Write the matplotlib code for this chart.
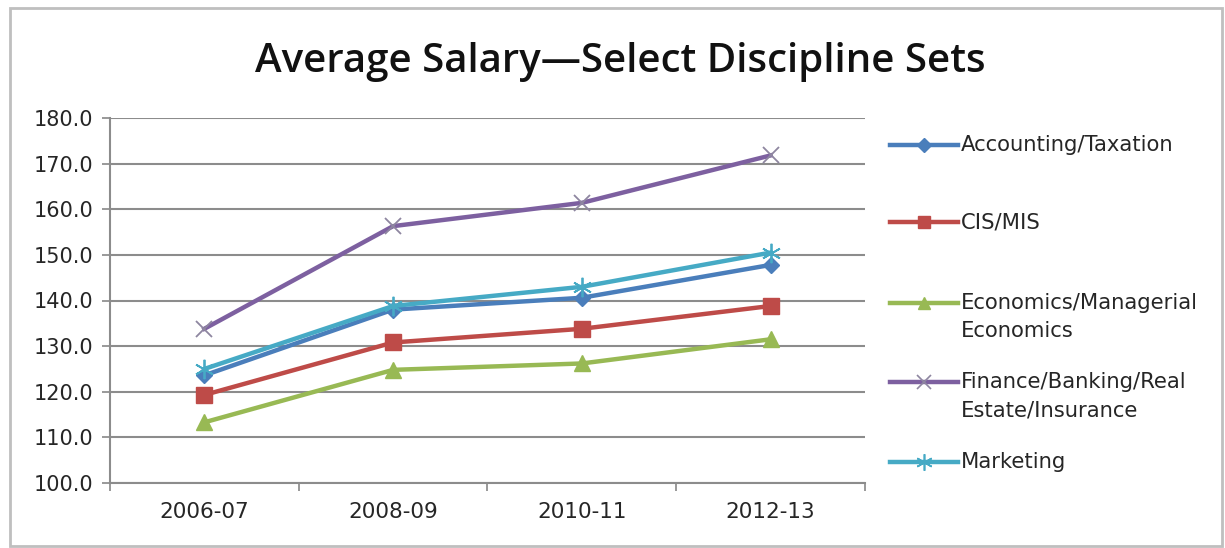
import matplotlib
matplotlib.use('Agg')
import matplotlib.pyplot as plt
from matplotlib.lines import Line2D
from matplotlib.patches import Rectangle

# average salary by discipline (thousands)
anos = ['2006-07', '2008-09', '2010-11', '2012-13']
accounting = [123.6, 138.0, 140.6, 147.8]
cis_mis = [119.3, 130.8, 133.8, 138.8]
economics = [113.3, 124.8, 126.2, 131.5]
finance = [133.8, 156.3, 161.4, 171.8]
marketing = [125.0, 138.8, 143.0, 150.5]

# asterisk marker: vertical bar plus an x
asterisco = (6, 2, 0)

series = [
    ('Accounting/Taxation', accounting, '#4A7EBB', 'D', 8),
    ('CIS/MIS', cis_mis, '#BE4B48', 's', 11),
    ('Economics/Managerial\nEconomics', economics, '#98B954', '^', 11),
    ('Finance/Banking/Real\nEstate/Insurance', finance, '#7D60A0', 'x', 12),
    ('Marketing', marketing, '#46AAC5', asterisco, 14),
]

plt.rcParams['font.family'] = ['DejaVu Sans']

fig = plt.figure(figsize=(12.25, 5.48), dpi=100)
ax = fig.add_axes([110 / 1225, 1 - 483 / 548, 755 / 1225, 365 / 548])

x = list(range(len(anos)))
for nome, valores, cor, marcador, tam in series:
    fino = marcador in ('x', asterisco)
    ax.plot(x, valores, color=cor, linewidth=3.2, marker=marcador,
            markersize=tam, markeredgewidth=1.3 if fino else 1,
            markeredgecolor='#8E86A0' if marcador == 'x' else cor, zorder=3)

ax.set_xlim(-0.5, 3.5)
ax.set_ylim(100, 180)
ax.set_yticks(range(100, 181, 10))
ax.set_yticklabels(['%.1f' % v for v in range(100, 181, 10)])
ax.set_xticks(x)
ax.set_xticklabels(anos)
ax.set_xticks([-0.5, 0.5, 1.5, 2.5, 3.5], minor=True)
ax.tick_params(axis='x', which='major', length=0, pad=14, labelsize=15.5, colors='#262626')
ax.tick_params(axis='x', which='minor', length=6, color='#888888', width=1.2)
ax.tick_params(axis='y', length=6, color='#888888', width=1.2, pad=6,
               labelsize=15, labelcolor='#262626')

ax.grid(axis='y', color='#8C8C8C', linewidth=1.5)
ax.set_axisbelow(True)
for lado in ['top', 'right']:
    ax.spines[lado].set_visible(False)
for lado in ['left', 'bottom']:
    ax.spines[lado].set_color('#8C8C8C')
    ax.spines[lado].set_linewidth(1.5)

fig.text(620 / 1225, 1 - 62 / 548, 'Average Salary\u2014Select Discipline Sets',
         ha='center', va='center', fontsize=29, color='#111111',
         family=['Open Sans', 'DejaVu Sans'], fontweight='semibold')

# legend drawn by hand on the right
linhas_y = [145, 222, 303, 382, 462]
for (nome, valores, cor, marcador, tam), yp in zip(series, linhas_y):
    yf = 1 - yp / 548
    fino = marcador in ('x', asterisco)
    fig.add_artist(Line2D([890 / 1225, 958 / 1225], [yf, yf], color=cor,
                          linewidth=3.2, transform=fig.transFigure))
    fig.add_artist(Line2D([924 / 1225], [yf], color=cor, marker=marcador,
                          markersize=tam * 0.85, markeredgewidth=1.2 if fino else 1,
                          markeredgecolor='#8E86A0' if marcador == 'x' else cor,
                          transform=fig.transFigure))
    t = fig.text(961 / 1225, yf, nome, ha='left', fontsize=15.2,
                 color='#262626', linespacing=1.5, transform=fig.transFigure)
    t.set_va('top')
    # first line of text centred on the legend line
    t.set_y(yf + 10 / 548)

fig.add_artist(Rectangle((10 / 1225, 2 / 548), 1212 / 1225, 538 / 548,
                         transform=fig.transFigure, fill=False,
                         edgecolor='#BFBFBF', linewidth=2))

fig.savefig('out.png', dpi=100, facecolor='white')
